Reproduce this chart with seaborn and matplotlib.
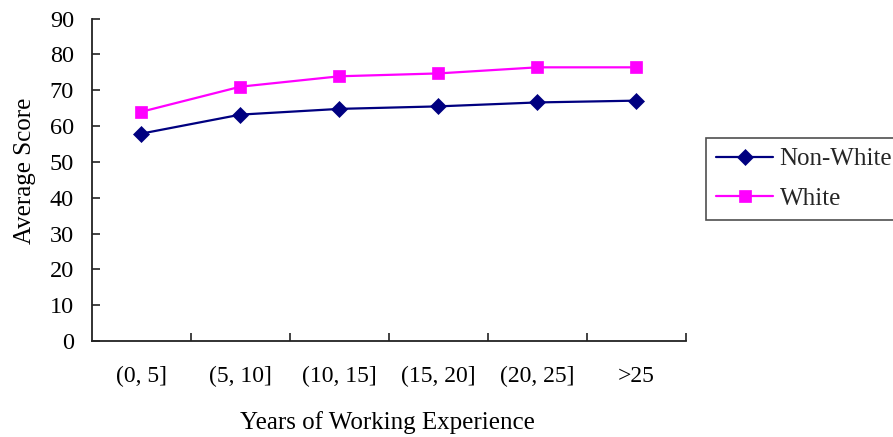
import matplotlib
matplotlib.use("Agg")
import matplotlib.pyplot as plt
import numpy as np
import pandas as pd
import seaborn as sns

# Average score by years of working experience
experience = ["(0, 5]", "(5, 10]", "(10, 15]", "(15, 20]", "(20, 25]", ">25"]
non_white = [57.9, 63.2, 64.8, 65.5, 66.6, 67.1]
white = [64.0, 71.0, 73.9, 74.7, 76.4, 76.4]
groups = ["Non-White", "White"]
y_ticks = list(range(0, 91, 10))

df = pd.DataFrame({
    "experience": experience * 2,
    "score": non_white + white,
    "group": ["Non-White"] * len(experience) + ["White"] * len(experience),
})

sns.set_theme(style="white")
plt.rcParams["font.family"] = ["Liberation Serif", "DejaVu Serif"]

fig = plt.figure(figsize=(8.93, 4.37), dpi=100)
ax = fig.add_axes([0.103, 0.2197, 0.665, 0.7377])

colors = {"Non-White": "#000080", "White": "#FF00FF"}
markers = {"Non-White": "D", "White": "s"}
sns.lineplot(data=df, x="experience", y="score", hue="group", style="group",
             hue_order=groups, style_order=groups, palette=colors,
             markers=markers, dashes=False, sort=False, linewidth=1.6,
             markersize=8.5, ax=ax, legend=False)
for line in ax.lines:
    line.set_markeredgecolor(line.get_color())
    line.set_markerfacecolor(line.get_color())
    line.set_markeredgewidth(0.5)

n = len(experience)
ax.set_xlim(-0.5, n - 0.5)
ax.set_ylim(0, 90)
ax.set_yticks(y_ticks)
ax.set_yticklabels([str(v) for v in y_ticks])

# tick marks at category boundaries, labels centred under each category
ax.set_xticks(np.arange(n) + 0.5)
ax.set_xticklabels([])
ax.set_xticks(np.arange(n), minor=True)
ax.set_xticklabels(experience, minor=True)
ax.tick_params(axis="x", which="major", direction="in", length=6, width=1.2,
               color="#222222", bottom=True)
ax.tick_params(axis="x", which="minor", length=0, pad=18, labelsize=17,
               labelcolor="black", bottom=True)
ax.tick_params(axis="y", direction="in", length=6, width=1.2, color="#222222",
               pad=13, labelsize=17.5, labelcolor="black", left=True)

for side in ["top", "right"]:
    ax.spines[side].set_visible(False)
for side in ["left", "bottom"]:
    ax.spines[side].set_color("#222222")
    ax.spines[side].set_linewidth(1.3)

ax.set_xlabel("Years of Working Experience", fontsize=18, color="black")
ax.set_ylabel("Average Score", fontsize=18, color="black")
ax.xaxis.set_label_coords(0.497, -0.254)
ax.xaxis.label.set_va("center")
ax.yaxis.set_label_coords(-0.113, 0.527)
ax.yaxis.label.set_va("center")

handles = ax.lines[:2]
leg = fig.legend(handles, groups, loc="upper left",
                 bbox_to_anchor=(706 / 893, 1 - 138 / 437),
                 bbox_transform=fig.transFigure, frameon=True, fancybox=False,
                 shadow=False, fontsize=18, handlelength=2.3,
                 handletextpad=0.25, labelspacing=0.69, borderpad=0.39,
                 borderaxespad=0)
leg.get_frame().set_edgecolor("#222222")
leg.get_frame().set_linewidth(1.2)

fig.savefig("out.png", dpi=100, facecolor="white")
